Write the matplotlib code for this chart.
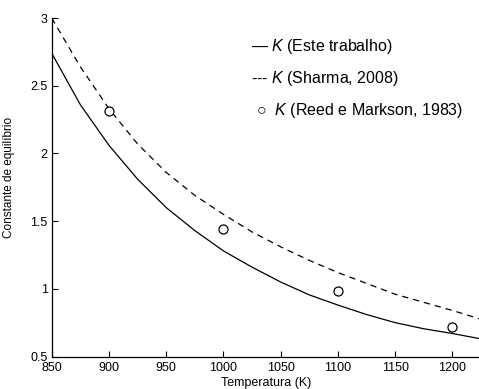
import matplotlib
matplotlib.use("Agg")
import matplotlib.pyplot as plt

plt.rcParams['font.family'] = ['Liberation Sans', 'DejaVu Sans']
plt.rcParams['mathtext.fontset'] = 'custom'
plt.rcParams['mathtext.it'] = 'Liberation Sans:italic'
plt.rcParams['mathtext.rm'] = 'Liberation Sans'

# temperature grid (K)
temps = [850, 875, 900, 925, 950, 975, 1000, 1025, 1050, 1075, 1100, 1125, 1150, 1175, 1200, 1225]
# K (Este trabalho)
k_este = [2.74, 2.36, 2.06, 1.81, 1.60, 1.43, 1.28, 1.16, 1.05, 0.955, 0.88, 0.81, 0.75, 0.705, 0.67, 0.63]
# K (Sharma, 2008)
k_sharma = [3.00, 2.64, 2.33, 2.07, 1.86, 1.69, 1.55, 1.42, 1.31, 1.21, 1.12, 1.04, 0.96, 0.90, 0.84, 0.775]
# K (Reed e Markson, 1983)
reed_t = [900, 1000, 1100, 1200]
reed_k = [2.31, 1.44, 0.987, 0.716]

fig = plt.figure(figsize=(4.79, 3.89), dpi=100)
ax = fig.add_axes([0.108, 0.0835, 0.894, 0.870])

ax.plot(temps, k_este, color='black', lw=0.9)
ax.plot(temps, k_sharma, color='black', lw=0.9, dashes=(5, 4))
ax.plot(reed_t, reed_k, 'o', mfc='white', mec='black', mew=0.9, ms=6.5, ls='none')

ax.set_xlim(850, 1224)
ax.set_ylim(0.5, 3)
ax.set_xticks([850, 900, 950, 1000, 1050, 1100, 1150, 1200])
ax.set_yticks([0.5, 1, 1.5, 2, 2.5, 3])
ax.set_yticklabels(['0.5', '1', '1.5', '2', '2.5', '3'])
ax.tick_params(direction='in', length=4, width=0.8, labelsize=9)
ax.tick_params(axis='x', pad=4)
ax.tick_params(axis='y', pad=3)

for s in ['top', 'right']:
    ax.spines[s].set_visible(False)
for s in ['left', 'bottom']:
    ax.spines[s].set_linewidth(0.9)

ax.set_xlabel('Temperatura (K)', fontsize=9, labelpad=2)
ax.set_ylabel('Constante de equilíbrio', fontsize=8.5)
ax.yaxis.set_label_coords(-0.085, 0.53)

# legend written as text
fs = 11.5
fig.text(251 / 479, 1 - 47 / 389, '— $K$ (Este trabalho)', fontsize=fs, va='center', ha='left')
fig.text(251 / 479, 1 - 79 / 389, '--- $K$ (Sharma, 2008)', fontsize=fs, va='center', ha='left')
fig.text(256 / 479, 1 - 111 / 389, '○  $K$ (Reed e Markson, 1983)', fontsize=fs, va='center', ha='left')

fig.savefig('out.png', dpi=100)
